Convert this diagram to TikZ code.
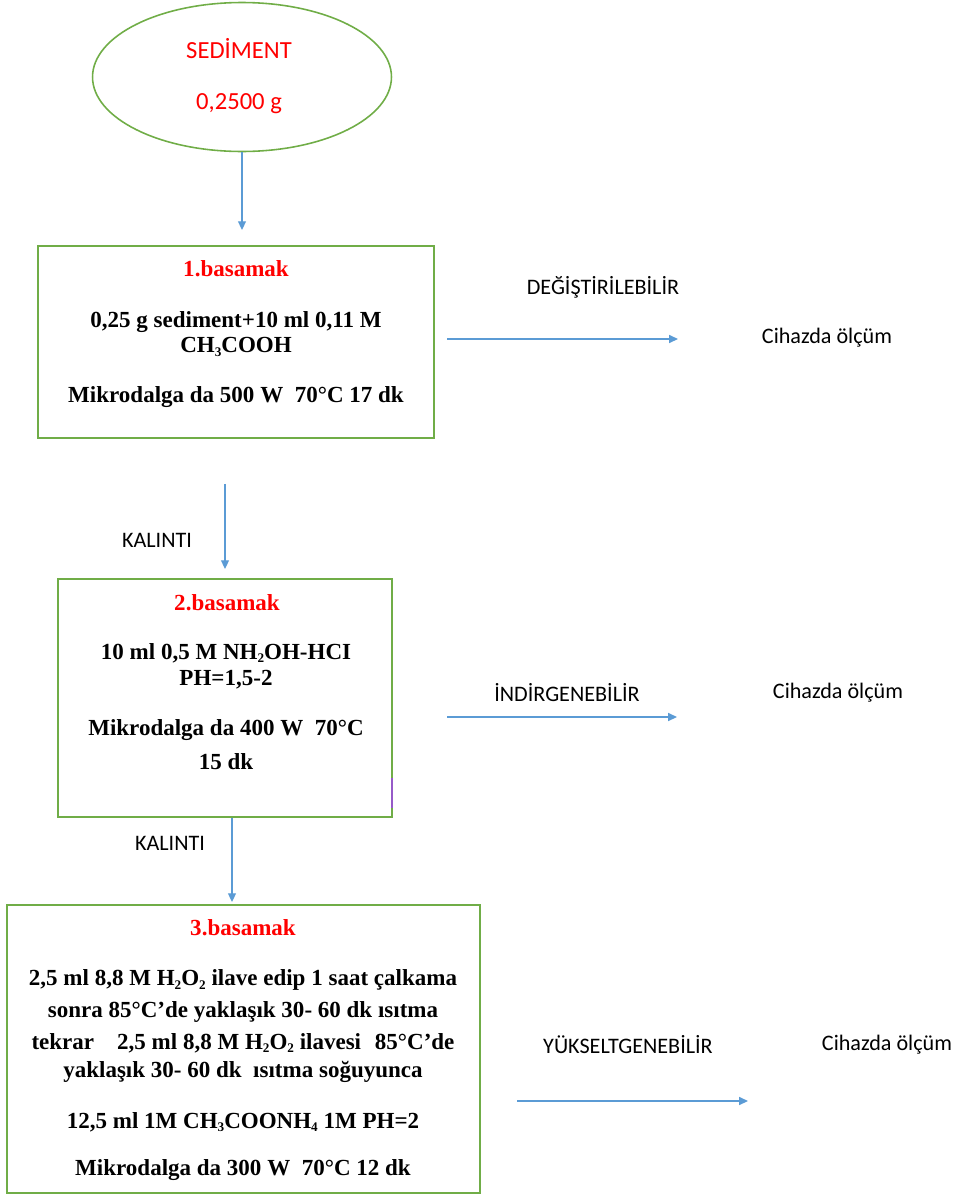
\documentclass[tikz,border=0pt]{standalone}
\usepackage{fontspec}
\setmainfont{Liberation Serif}
\newfontfamily\calibri{Carlito}
\usetikzlibrary{arrows.meta,shapes.geometric}
\definecolor{boxgreen}{RGB}{112,173,71}
\definecolor{arrblue}{RGB}{91,155,213}
\definecolor{stepred}{RGB}{255,0,0}
\definecolor{markpurple}{RGB}{150,90,200}
\newcommand{\sbs}[1]{\raisebox{-0.35ex}{\fontsize{7.5}{8}\selectfont #1}}

\begin{document}
\begin{tikzpicture}
        [x=0.02cm, y=-0.02cm,
         box/.style={draw=boxgreen, line width=1.1pt, inner sep=0},
         txt/.style={font=\fontsize{13.1}{15}\selectfont\bfseries, inner sep=0},
         title/.style={txt, text=stepred},
         lbl/.style={font=\calibri\fontsize{12.6}{14}\selectfont, inner sep=0},
         arr/.style={draw=arrblue, line width=0.8pt, -{Triangle[length=5pt,width=4.5pt]}}]

        \useasboundingbox (0,0) rectangle (963,1194);

        % sediment
        \node[ellipse, draw=boxgreen, line width=0.9pt, minimum width=5.98cm, minimum height=2.98cm] (sed) at (242,77) {};
        \node[lbl, font=\calibri\fontsize{14}{16}\selectfont, text=stepred] (sedname) at (239,49) {SEDİMENT};
        \node[lbl, font=\calibri\fontsize{14}{16}\selectfont, text=stepred] (sedmass) at (239,104) {0,2500 g};

        % 1.basamak
        \node[box, minimum width=7.94cm, minimum height=3.84cm] (b1) at (236,342) {};
        \node[title] (b1t) at (236,269) {1.basamak};
        \node[txt] (b1l1) at (236,322) {0,25 g sediment+10 ml 0,11 M};
        \node[txt] (b1l2) at (236,347) {CH\sbs{3}COOH};
        \node[txt] (b1l3) at (236,397) {Mikrodalga da 500 W\hspace{0.5em}70°C 17 dk};

        % 2.basamak
        \node[box, minimum width=6.68cm, minimum height=4.76cm] (b2) at (225,698) {};
        \node[title] (b2t) at (227,603) {2.basamak};
        \node[txt] (b2l1) at (226,653) {10 ml 0,5 M NH\sbs{2}OH-HCI};
        \node[txt] (b2l2) at (226,680) {PH=1,5-2};
        \node[txt] (b2l3) at (226,730) {Mikrodalga da 400 W\hspace{0.5em}70°C};
        \node[txt] (b2l4) at (226,762) {15 dk};
        \draw[markpurple, line width=1pt] (392,778) -- (392,808);

        % 3.basamak
        \node[box, minimum width=9.46cm, minimum height=5.76cm] (b3) at (243.5,1049) {};
        \node[title] (b3t) at (243,928) {3.basamak};
        \node[txt] (b3l1) at (243,980) {2,5 ml 8,8 M H\sbs{2}O\sbs{2} ilave edip 1 saat çalkama};
        \node[txt] (b3l2) at (243,1012) {sonra 85°C’de yaklaşık 30- 60 dk ısıtma};
        \node[txt] (b3l3) at (243,1043) {tekrar\hspace{1em}2,5 ml 8,8 M H\sbs{2}O\sbs{2} ilavesi\hspace{0.6em}85°C’de};
        \node[txt] (b3l4) at (243,1072) {yaklaşık 30- 60 dk\hspace{0.5em}ısıtma soğuyunca};
        \node[txt] (b3l5) at (243,1122) {12,5 ml 1M CH\sbs{3}COONH\sbs{4} 1M PH=2};
        \node[txt] (b3l6) at (243,1170) {Mikrodalga da 300 W\hspace{0.5em}70°C 12 dk};

        % labels
        \node[lbl] (k1) at (157,540) {KALINTI};
        \node[lbl] (k2) at (170,843) {KALINTI};
        \node[lbl] (f1) at (603,287) {DEĞİŞTİRİLEBİLİR};
        \node[lbl] (f2) at (567,693) {İNDİRGENEBİLİR};
        \node[lbl] (f3) at (628,1045) {YÜKSELTGENEBİLİR};
        \node[lbl] (c1) at (827,338) {Cihazda ölçüm};
        \node[lbl] (c2) at (838,693) {Cihazda ölçüm};
        \node[lbl] (c3) at (887,1045) {Cihazda ölçüm};

        \coordinate (a1s) at (447,339);
        \coordinate (a1e) at (678,339);
        \coordinate (a2s) at (447,717);
        \coordinate (a2e) at (677,717);
        \coordinate (a3s) at (517,1101);
        \coordinate (a3e) at (748,1101);

        \draw[arr, shorten >=0.3cm] (sed.south) -- (sed.south |- b1.north);
        \draw[arr, shorten <=0.9cm, shorten >=0.18cm] (b2.north |- b1.south) -- (b2.north);
        \draw[arr, shorten >=0.04cm] ([xshift=0.14cm]b2.south) -- ([xshift=0.14cm]b2.south |- b3.north);
        \draw[arr] (a1s) -- (a1e);
        \draw[arr] (a2s) -- (a2e);
        \draw[arr] (a3s) -- (a3e);

      \end{tikzpicture}
\end{document}
